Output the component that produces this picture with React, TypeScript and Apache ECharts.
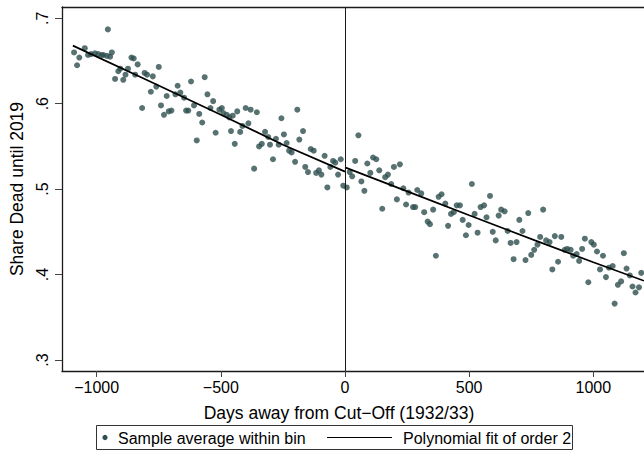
import React, { useEffect, useRef } from "react";
import * as echarts from "echarts";

// Binned sample averages (days from cut-off, share dead until 2019)
const binDays: number[] = [
  -1091, -1079, -1070, -1048, -1035, -1023, -1007, -994, -980, -973, -959, -955, -946, -939,
  -926, -913, -905, -893, -884, -874, -860, -851, -845, -835, -817, -807, -797, -782, -774,
  -760, -750, -741, -729, -718, -710, -699, -683, -674, -663, -648, -640, -631, -620, -608,
  -597, -587, -575, -565, -554, -542, -531, -521, -506, -496, -490, -476, -466, -459, -452,
  -444, -434, -422, -413, -400, -389, -380, -366, -355, -346, -335, -322, -309, -302, -290,
  -278, -267, -256, -246, -235, -225, -215, -201, -192, -184, -169, -160, -149, -138, -126,
  -116, -105, -95, -82, -71, -59, -48, -39, -28, -17, -7,
  7, 19, 29, 41, 54, 66, 78, 90, 102, 113, 126, 138, 150, 162, 173, 186, 197, 209, 221, 235,
  246, 256, 274, 283, 291, 307, 319, 333, 342, 355, 366, 377, 389, 404, 415, 427, 438, 450,
  463, 474, 487, 498, 511, 522, 534, 546, 560, 570, 584, 595, 607, 619, 629, 643, 655, 667,
  679, 691, 702, 715, 727, 738, 750, 762, 775, 786, 798, 810, 824, 835, 845, 858, 871, 885,
  895, 909, 919, 933, 943, 955, 966, 980, 992, 1002, 1015, 1027, 1039, 1051, 1063, 1078,
  1086, 1099, 1112, 1123, 1134, 1147, 1158, 1170, 1184, 1193,
];
const shareDead: number[] = [
  0.660, 0.645, 0.654, 0.665, 0.657, 0.658, 0.659, 0.658, 0.657, 0.657, 0.656, 0.687, 0.655, 0.660,
  0.629, 0.638, 0.641, 0.628, 0.634, 0.641, 0.654, 0.653, 0.634, 0.646, 0.595, 0.636, 0.634, 0.614, 0.632,
  0.620, 0.643, 0.598, 0.587, 0.609, 0.591, 0.592, 0.611, 0.621, 0.613, 0.607, 0.592, 0.592, 0.626, 0.598,
  0.557, 0.588, 0.578, 0.631, 0.611, 0.595, 0.603, 0.566, 0.593, 0.595, 0.589, 0.587, 0.584, 0.568, 0.586,
  0.553, 0.591, 0.567, 0.574, 0.595, 0.577, 0.593, 0.524, 0.590, 0.550, 0.553, 0.567, 0.561, 0.552, 0.535,
  0.559, 0.552, 0.583, 0.564, 0.554, 0.545, 0.543, 0.532, 0.593, 0.558, 0.568, 0.526, 0.520, 0.547, 0.545,
  0.519, 0.522, 0.517, 0.539, 0.502, 0.526, 0.533, 0.531, 0.517, 0.535, 0.504,
  0.502, 0.520, 0.515, 0.533, 0.563, 0.509, 0.498, 0.530, 0.519, 0.537, 0.535, 0.522, 0.477, 0.514, 0.517, 0.506, 0.526, 0.488, 0.529, 0.501,
  0.482, 0.496, 0.479, 0.479, 0.499, 0.495, 0.473, 0.462, 0.459, 0.476, 0.422, 0.491, 0.494, 0.483, 0.457, 0.471, 0.473, 0.481,
  0.481, 0.464, 0.446, 0.458, 0.506, 0.471, 0.449, 0.479, 0.481, 0.467, 0.492, 0.450, 0.440, 0.469, 0.476, 0.474, 0.451, 0.437,
  0.418, 0.438, 0.464, 0.451, 0.417, 0.472, 0.423, 0.429, 0.435, 0.444, 0.476, 0.440, 0.438, 0.406, 0.445, 0.415, 0.444, 0.429,
  0.430, 0.429, 0.422, 0.424, 0.416, 0.430, 0.442, 0.391, 0.438, 0.435, 0.427, 0.406, 0.422, 0.397, 0.408, 0.410,
  0.366, 0.388, 0.392, 0.425, 0.407, 0.399, 0.386, 0.379, 0.385, 0.402,
];

// Polynomial fit (order 2), each side of the cut-off
const fitLeftDays: number[] = [-1096, -800, -500, -250, 0];
const fitLeftShare: number[] = [0.668, 0.628, 0.587, 0.552, 0.5205];
const fitRightDays: number[] = [0, 290, 500, 765, 1000, 1204];
const fitRightShare: number[] = [0.5255, 0.493, 0.4695, 0.44, 0.4144, 0.3927];

const xTicks: number[] = [-1000, -500, 0, 500, 1000];
const yTicks: number[] = [0.3, 0.4, 0.5, 0.6, 0.7];

const FONT = "'Liberation Sans', Arial, Helvetica, sans-serif";
const DOT = "#2e4f4f";

export default function App() {
  const ref = useRef<HTMLDivElement>(null);
  useEffect(() => {
    if (!ref.current) return;
    const chart = echarts.init(ref.current, undefined, { renderer: "svg" });
    const xMin = -1139.7;
    const xMax = 1204.2;
    const axisLine = { show: true, onZero: false, lineStyle: { color: "#1a1a1a", width: 1.3 } };
    const option: any = {
      animation: false,
      backgroundColor: "#fff",
      grid: { left: 62, top: 7, width: 582, height: 364 },
      xAxis: [
        {
          type: "value",
          min: xMin,
          max: xMax,
          position: "bottom",
          axisLine,
          axisTick: { show: true, length: 6, customValues: xTicks, lineStyle: { color: "#444", width: 1 } },
          axisLabel: {
            customValues: xTicks,
            formatter: (v: number) => (v < 0 ? "\u2212" + Math.abs(v) : String(v)),
            fontSize: 16,
            color: "#000",
            fontFamily: FONT,
            margin: 8,
          },
          splitLine: { show: false },
          name: "Days away from Cut\u2212Off (1932/33)",
          nameLocation: "middle",
          nameGap: 33,
          nameTextStyle: { fontSize: 17.5, color: "#000", fontFamily: FONT, padding: [0, 28, 0, 0] },
        },
        {
          type: "value",
          min: xMin,
          max: xMax,
          position: "top",
          axisLine,
          axisTick: { show: false },
          axisLabel: { show: false },
          splitLine: { show: false },
        },
      ],
      yAxis: {
        type: "value",
        min: 0.2871,
        max: 0.7132,
        axisLine,
        axisTick: { show: true, length: 7, customValues: yTicks, lineStyle: { color: "#444", width: 1 } },
        axisLabel: {
          customValues: yTicks,
          rotate: 90,
          formatter: (v: number) => v.toFixed(1).replace(/^0\./, "."),
          fontSize: 16,
          color: "#000",
          fontFamily: FONT,
          margin: 12,
        },
        splitLine: { show: false },
        name: "Share Dead until 2019",
        nameLocation: "middle",
        nameGap: 30,
        nameTextStyle: { fontSize: 17.5, color: "#000", fontFamily: FONT },
      },
      series: [
        {
          name: "Sample average within bin",
          type: "scatter",
          symbol: "circle",
          symbolSize: 6,
          itemStyle: { color: DOT },
          data: binDays.map((d, i) => [d, shareDead[i]]),
          markLine: {
            silent: true,
            symbol: ["none", "none"],
            label: { show: false },
            lineStyle: { color: "#1a1a1a", width: 1, type: "solid" },
            emphasis: { disabled: true },
            data: [{ xAxis: 0 }],
          },
          z: 2,
        },
        {
          name: "Polynomial fit of order 2",
          type: "line",
          showSymbol: false,
          symbol: "none",
          lineStyle: { color: "#000", width: 1.7 },
          data: fitLeftDays.map((d, i) => [d, fitLeftShare[i]]),
          z: 3,
        },
        {
          name: "Polynomial fit of order 2",
          type: "line",
          showSymbol: false,
          symbol: "none",
          lineStyle: { color: "#000", width: 1.7 },
          data: fitRightDays.map((d, i) => [d, fitRightShare[i]]),
          z: 3,
        },
      ],
      graphic: [
        {
          type: "rect",
          shape: { x: 96.5, y: 425.5, width: 476, height: 24 },
          style: { fill: "#fff", stroke: "#333", lineWidth: 1 },
        },
        { type: "circle", shape: { cx: 105, cy: 437.5, r: 2.6 }, style: { fill: DOT } },
        {
          type: "text",
          x: 118,
          y: 438,
          style: { text: "Sample average within bin", font: `16px ${FONT}`, fill: "#000", verticalAlign: "middle" },
        },
        {
          type: "line",
          shape: { x1: 327, y1: 437.5, x2: 392, y2: 437.5 },
          style: { stroke: "#000", lineWidth: 1.2 },
        },
        {
          type: "text",
          x: 403,
          y: 438,
          style: { text: "Polynomial fit of order 2", font: `16px ${FONT}`, fill: "#000", verticalAlign: "middle" },
        },
      ],
    };
    chart.setOption(option);
    return () => chart.dispose();
  }, []);
  return (
    <div
      ref={ref}
      style={{ position: "fixed", left: 0, top: 0, width: 644, height: 461, background: "#fff" }}
    />
  );
}
